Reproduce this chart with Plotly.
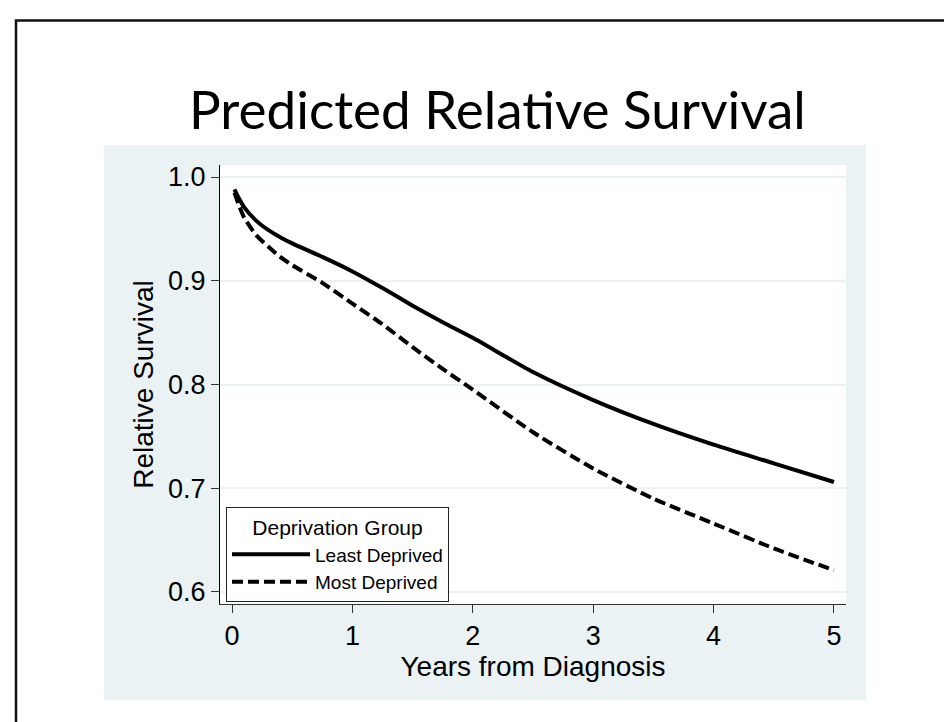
import plotly.graph_objects as go

# ---- data ----
years = [0.02, 0.05, 0.1, 0.2, 0.3, 0.4, 0.5, 0.75, 1.0, 1.25, 1.5, 1.75,
         2.0, 2.5, 3.0, 3.5, 4.0, 4.5, 5.0]
least_deprived = [0.988, 0.981, 0.971, 0.958, 0.949, 0.942, 0.936, 0.923,
                  0.909, 0.893, 0.876, 0.860, 0.845, 0.812, 0.785, 0.762,
                  0.742, 0.724, 0.706]
most_deprived = [0.985, 0.975, 0.961, 0.944, 0.933, 0.923, 0.915, 0.898,
                 0.878, 0.858, 0.836, 0.815, 0.795, 0.754, 0.719, 0.690,
                 0.666, 0.642, 0.621]
series_names = ["Least Deprived", "Most Deprived"]
x_ticks = [0, 1, 2, 3, 4, 5]
y_ticks = [0.6, 0.7, 0.8, 0.9, 1.0]
y_tick_labels = ["0.6", "0.7", "0.8", "0.9", "1.0"]

# ---- layout geometry (pixels) ----
W_FIG, H_FIG = 952, 722
L, R, T, B = 212, 838, 157, 596
PW, PH = R - L, B - T


def px_x(px):
    return (px - L) / PW


def px_y(py):
    return (B - py) / PH


PANEL = "#EAF2F3"
FONT = "Liberation Sans, Arial, Helvetica, sans-serif"

fig = go.Figure()
fig.add_trace(go.Scatter(
    x=years, y=least_deprived, name=series_names[0], mode="lines",
    line=dict(color="black", width=4, shape="spline", smoothing=0.6)))
fig.add_trace(go.Scatter(
    x=years, y=most_deprived, name=series_names[1], mode="lines",
    line=dict(color="black", width=4, dash="11px,5px", shape="spline",
              smoothing=0.6)))

shapes = [
    # graph region (light bluish gray panel)
    dict(type="rect", xref="paper", yref="paper", layer="below",
         x0=px_x(96), x1=px_x(858), y0=px_y(692), y1=px_y(137),
         fillcolor=PANEL, line=dict(width=0)),
    # plot region (white)
    dict(type="rect", xref="paper", yref="paper", layer="below",
         x0=0, x1=1, y0=0, y1=1, fillcolor="white", line=dict(width=0)),
    # slide frame
    dict(type="rect", xref="paper", yref="paper", layer="above",
         x0=px_x(8), x1=px_x(970), y0=px_y(740), y1=px_y(12.5),
         fillcolor="rgba(0,0,0,0)", line=dict(color="#111111", width=2.5)),
]

annotations = [
    dict(text="Predicted Relative Survival", xref="paper", yref="paper",
         x=px_x(489), y=px_y(100), xanchor="center", yanchor="middle",
         showarrow=False,
         font=dict(family="Lato, Noto Sans, sans-serif", size=53,
                   color="black")),
]

fig.update_layout(
    width=W_FIG, height=H_FIG,
    margin=dict(l=L, r=W_FIG - R, t=T, b=H_FIG - B, autoexpand=False),
    paper_bgcolor="white", plot_bgcolor="white",
    font=dict(family=FONT, color="black"),
    shapes=shapes, annotations=annotations,
    showlegend=True,
    legend=dict(
        x=px_x(218), y=px_y(499), xanchor="left", yanchor="top",
        bgcolor="white", bordercolor="#222222", borderwidth=1,
        title=dict(text="Deprivation Group", side="top center",
                   font=dict(size=21, family=FONT)),
        font=dict(size=19, family=FONT), itemwidth=78, tracegroupgap=0),
    xaxis=dict(
        range=[-0.1, 5.1], tickvals=x_ticks, ticks="outside", ticklen=8,
        tickcolor="#333333", tickwidth=1, showline=True, linecolor="#333333",
        linewidth=1, showgrid=False, zeroline=False,
        tickfont=dict(size=27, family=FONT),
        title=dict(text="Years from Diagnosis", font=dict(size=28, family=FONT),
                   standoff=0)),
    yaxis=dict(
        range=[0.5884, 1.0116], tickvals=y_ticks, ticktext=y_tick_labels,
        ticks="outside", ticklen=8, tickcolor="#333333", tickwidth=1,
        showline=True, linecolor="black", linewidth=1,
        showgrid=True, gridcolor=PANEL, gridwidth=2, zeroline=False,
        tickfont=dict(size=27, family=FONT),
        title=dict(text="Relative Survival", font=dict(size=28, family=FONT),
                   standoff=6)),
)

fig.write_html("out.html")
